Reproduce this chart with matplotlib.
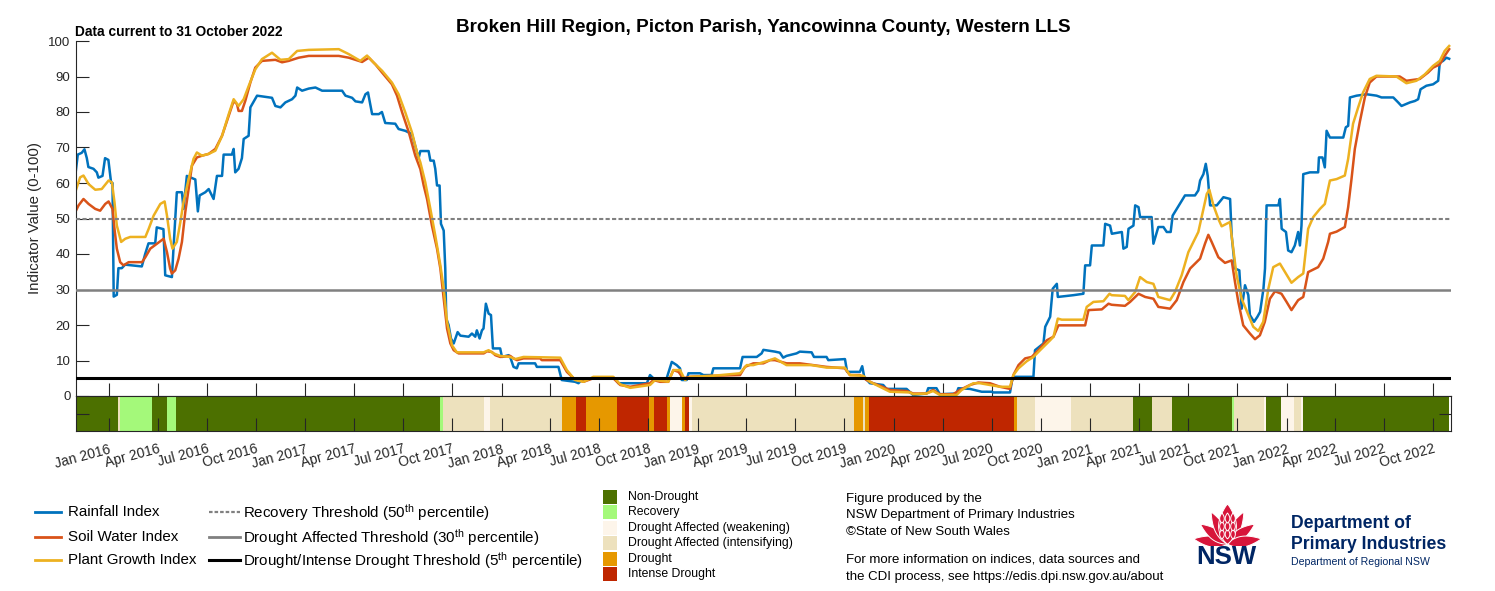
import numpy as np
import matplotlib
matplotlib.use('Agg')
import matplotlib.pyplot as plt
import matplotlib.dates as mdates
from matplotlib.patches import Rectangle, Polygon
from matplotlib.lines import Line2D
from datetime import datetime

plt.rcParams['font.family'] = ['Liberation Sans', 'DejaVu Sans']
plt.rcParams['mathtext.fontset'] = 'custom'
plt.rcParams['mathtext.rm'] = 'Liberation Sans'
plt.rcParams['mathtext.it'] = 'Liberation Sans:italic'
plt.rcParams['mathtext.bf'] = 'Liberation Sans:bold'

# ---------------- data (decimal year, index value) ----------------
rain_pts = [
    (2015.829, 62), (2015.842, 68), (2015.862, 68.5), (2015.876, 69.5), (2015.888, 67), (2015.896, 64.5),
    (2015.922, 64), (2015.939, 63), (2015.947, 61.5), (2015.968, 62), (2015.981, 67), (2015.998, 66.5),
    (2016.012, 60), (2016.019, 60), (2016.025, 28), (2016.041, 28.5), (2016.049, 36), (2016.066, 36),
    (2016.083, 37), (2016.168, 36.5), (2016.185, 40), (2016.202, 43), (2016.236, 43), (2016.244, 47.5),
    (2016.278, 47), (2016.287, 34), (2016.321, 33.5), (2016.329, 41.5), (2016.346, 57.4), (2016.372, 57.4),
    (2016.380, 52.7), (2016.397, 62), (2016.440, 61), (2016.453, 52), (2016.462, 56.5), (2016.491, 57.4),
    (2016.508, 58.3), (2016.533, 55.5), (2016.550, 62), (2016.576, 62), (2016.584, 68), (2016.626, 68),
    (2016.635, 69.6), (2016.643, 63), (2016.660, 64), (2016.677, 67), (2016.686, 72.4), (2016.711, 73.3),
    (2016.720, 81.3), (2016.754, 84.6), (2016.830, 84), (2016.847, 81.7), (2016.873, 81.3), (2016.898, 82.7),
    (2016.932, 83.6), (2016.949, 84.6), (2016.958, 86.9), (2016.983, 86), (2017.017, 86.6), (2017.051, 86.9),
    (2017.085, 86), (2017.187, 86), (2017.204, 84.6), (2017.238, 84), (2017.255, 83), (2017.289, 82.7),
    (2017.306, 85), (2017.319, 85.5), (2017.340, 79.4), (2017.374, 79.4), (2017.390, 80), (2017.407, 76.9),
    (2017.458, 76.7), (2017.475, 75.2), (2017.509, 74.7), (2017.543, 73.8), (2017.577, 67),
    (2017.586, 69), (2017.628, 69), (2017.637, 66.3), (2017.654, 66.3), (2017.662, 64), (2017.671, 59.3),
    (2017.684, 59.3), (2017.688, 53.2), (2017.691, 48.5), (2017.705, 46.6), (2017.713, 35.9), (2017.718, 21.8),
    (2017.730, 20), (2017.742, 16.2), (2017.756, 14.8), (2017.776, 18), (2017.790, 17), (2017.832, 16.7),
    (2017.849, 17.6), (2017.866, 16.7), (2017.874, 18.5), (2017.888, 16.2), (2017.900, 18.5), (2017.908, 19),
    (2017.920, 26), (2017.934, 23.2), (2017.946, 22.8), (2017.956, 13.4), (2017.993, 13.4), (2018.002, 11),
    (2018.036, 11.5), (2018.044, 11), (2018.061, 8.2), (2018.078, 7.8), (2018.087, 9.2), (2018.171, 9.2),
    (2018.180, 8.2), (2018.290, 8.2), (2018.307, 4.5), (2018.375, 4), (2018.392, 3.6), (2018.409, 4.5),
    (2018.469, 5), (2018.579, 5), (2018.596, 3.6), (2018.741, 3.6), (2018.757, 5.9), (2018.774, 5),
    (2018.842, 5), (2018.868, 9.6), (2018.893, 8.7), (2018.910, 7.8), (2018.919, 4.5), (2018.944, 4.5),
    (2018.953, 6.4), (2019.012, 6.4), (2019.029, 5.9), (2019.071, 5.9), (2019.080, 7.8), (2019.216, 7.8),
    (2019.229, 11), (2019.301, 11), (2019.326, 12), (2019.335, 13), (2019.394, 12.5), (2019.419, 12.2),
    (2019.436, 10.8), (2019.453, 11.3), (2019.504, 12), (2019.521, 12.5), (2019.581, 12.3), (2019.593, 11),
    (2019.657, 11), (2019.666, 10.1), (2019.751, 10.4), (2019.762, 6.8), (2019.827, 6.8), (2019.839, 8.4),
    (2019.849, 5.4), (2019.878, 3.6), (2019.946, 3.1), (2019.963, 2), (2020.065, 2), (2020.098, 0.3),
    (2020.166, 0.7), (2020.175, 2.2), (2020.217, 2.2), (2020.234, 0.5), (2020.319, 0.7), (2020.328, 2.2),
    (2020.387, 2), (2020.447, 1.2), (2020.498, 1.2), (2020.506, 1), (2020.591, 1), (2020.600, 4),
    (2020.608, 5.4), (2020.710, 5.4), (2020.718, 12.9), (2020.761, 14.8), (2020.770, 19.5), (2020.795, 22.3),
    (2020.808, 30.2), (2020.829, 31.6), (2020.834, 27.9), (2020.913, 28.4), (2020.964, 28.8), (2020.973, 36.8),
    (2020.998, 36.8), (2021.007, 42.4), (2021.066, 42.4), (2021.075, 48.5), (2021.100, 48), (2021.109, 45.7),
    (2021.160, 46.2), (2021.168, 41.5), (2021.185, 42), (2021.194, 47.1), (2021.219, 48), (2021.228, 53.7),
    (2021.245, 53.2), (2021.253, 50.4), (2021.312, 50.4), (2021.321, 42.9), (2021.346, 47.6), (2021.372, 47.6),
    (2021.389, 46.2), (2021.409, 46.2), (2021.419, 50.8), (2021.440, 52.7), (2021.465, 55), (2021.482, 56.5),
    (2021.533, 56.5), (2021.550, 57.9), (2021.559, 60.7), (2021.576, 62.5), (2021.588, 65.4), (2021.598, 62),
    (2021.610, 53.7), (2021.644, 53.7), (2021.678, 56), (2021.712, 55.5), (2021.720, 45.2), (2021.737, 35.9),
    (2021.759, 35.4), (2021.771, 24.6), (2021.788, 31.2), (2021.805, 28.4), (2021.813, 22.8), (2021.834, 20.9),
    (2021.851, 22.3), (2021.865, 23.7), (2021.882, 30.2), (2021.890, 35.9), (2021.898, 53.7), (2021.958, 53.7),
    (2021.966, 55.5), (2021.975, 47.1), (2021.997, 46.2), (2022.008, 41), (2022.025, 40.5), (2022.042, 42.4),
    (2022.059, 46.2), (2022.068, 42.4), (2022.076, 48), (2022.085, 62.5), (2022.119, 63), (2022.161, 63),
    (2022.165, 67.2), (2022.183, 67.2), (2022.195, 64.4), (2022.204, 74.7), (2022.221, 72.8), (2022.289, 72.8),
    (2022.302, 75.7), (2022.314, 76.1), (2022.323, 84.1), (2022.357, 84.6), (2022.408, 85), (2022.459, 84.6),
    (2022.484, 84.1), (2022.544, 84.1), (2022.569, 82.7), (2022.586, 81.7), (2022.629, 82.7), (2022.654, 83.1),
    (2022.671, 83.6), (2022.683, 86.4), (2022.713, 87.4), (2022.747, 87.8), (2022.773, 88.8), (2022.781, 93.9),
    (2022.798, 94.4), (2022.815, 95.3), (2022.829, 95),
]

soil_pts = [
    (2015.829, 51.8), (2015.846, 53.7), (2015.871, 55.5), (2015.897, 54.1), (2015.931, 52.7), (2015.956, 52.2),
    (2015.982, 54.1), (2015.999, 54.8), (2016.019, 52.7), (2016.029, 47.1), (2016.041, 41.5), (2016.058, 37.7),
    (2016.075, 36.8), (2016.101, 37.7), (2016.169, 37.7), (2016.186, 39.1), (2016.211, 41.5), (2016.245, 42.9),
    (2016.279, 44.3), (2016.296, 40.5), (2016.312, 35.9), (2016.321, 34.5), (2016.338, 35.4), (2016.355, 38.7),
    (2016.372, 43.4), (2016.389, 51.8), (2016.406, 58.3), (2016.423, 64.9), (2016.448, 67.2), (2016.474, 67.7),
    (2016.508, 68.2), (2016.542, 69.6), (2016.576, 73.3), (2016.610, 78.9), (2016.635, 83.1), (2016.652, 82.2),
    (2016.660, 80.3), (2016.677, 80.3), (2016.694, 83.1), (2016.720, 88.3), (2016.745, 92.5), (2016.779, 94.4),
    (2016.847, 94.7), (2016.881, 94.0), (2016.915, 94.4), (2016.966, 95.3), (2017.017, 95.8), (2017.170, 95.8),
    (2017.221, 95.3), (2017.289, 94.1), (2017.323, 95.3), (2017.357, 93.4), (2017.391, 91.1), (2017.441, 87.8),
    (2017.467, 84.6), (2017.493, 79.9), (2017.527, 74.3), (2017.560, 67.7),
    (2017.586, 63.9), (2017.603, 59.3), (2017.620, 55.5), (2017.645, 48.0), (2017.671, 41.5), (2017.688, 35.9),
    (2017.705, 27.4), (2017.722, 19.0), (2017.739, 14.8), (2017.756, 12.9), (2017.781, 12.0), (2017.909, 12.0),
    (2017.926, 12.6), (2017.951, 12.4), (2017.968, 11.5), (2017.993, 11.0), (2018.044, 11.3), (2018.061, 10.6),
    (2018.078, 10.1), (2018.112, 10.6), (2018.197, 10.6), (2018.205, 10.1), (2018.299, 10.1), (2018.333, 6.8),
    (2018.367, 5.0), (2018.418, 4.0), (2018.468, 5.0), (2018.570, 5.0), (2018.605, 3.1), (2018.656, 2.6),
    (2018.707, 3.1), (2018.757, 3.6), (2018.774, 4.5), (2018.808, 4.0), (2018.850, 4.0), (2018.876, 7.3),
    (2018.902, 6.8), (2018.927, 5.0), (2018.961, 5.4), (2019.080, 5.7), (2019.216, 5.9), (2019.241, 8.2),
    (2019.284, 9.2), (2019.335, 9.2), (2019.369, 10.1),
    (2019.394, 10.1), (2019.453, 9.2), (2019.521, 9.2), (2019.589, 8.7), (2019.657, 8.2), (2019.750, 7.8),
    (2019.776, 5.9), (2019.827, 5.9), (2019.861, 4.5), (2019.895, 3.6), (2019.929, 2.9), (2019.980, 1.7),
    (2020.065, 1.4), (2020.099, 0.7), (2020.166, 0.7), (2020.200, 1.7), (2020.234, 0.5), (2020.302, 0.5),
    (2020.336, 1.7), (2020.387, 3.1), (2020.430, 3.8), (2020.489, 3.6), (2020.540, 2.6), (2020.591, 2.0),
    (2020.608, 5.9), (2020.634, 8.7), (2020.668, 10.6), (2020.701, 11.0), (2020.735, 12.9), (2020.778, 15.7),
    (2020.812, 16.7), (2020.837, 19.9), (2020.973, 19.9), (2020.990, 24.2), (2021.058, 24.4), (2021.092, 26.0),
    (2021.108, 25.7), (2021.176, 25.4), (2021.202, 26.5), (2021.245, 28.8), (2021.279, 27.9), (2021.321, 27.4),
    (2021.346, 25.1), (2021.406, 24.6), (2021.440, 27.0), (2021.474, 32.1), (2021.508, 35.9), (2021.559, 38.7),
    (2021.584, 42.9), (2021.601, 45.4), (2021.618, 43.4), (2021.652, 39.1), (2021.686, 37.5), (2021.720, 38.2),
    (2021.737, 32.1), (2021.754, 26.5), (2021.779, 19.9), (2021.813, 17.6), (2021.839, 16.0), (2021.864, 17.1),
    (2021.889, 20.9), (2021.915, 27.4), (2021.941, 29.5), (2021.974, 28.8), (2022.000, 26.5), (2022.025, 24.2),
    (2022.059, 27.0), (2022.085, 27.9), (2022.110, 34.9), (2022.161, 36.3), (2022.187, 38.7), (2022.212, 43.4),
    (2022.221, 45.7), (2022.255, 46.3), (2022.297, 47.6), (2022.314, 53.2), (2022.331, 61.1), (2022.348, 69.6),
    (2022.373, 77.1), (2022.399, 84.1), (2022.424, 88.3), (2022.458, 90.0), (2022.577, 90.0), (2022.611, 88.8),
    (2022.679, 89.3), (2022.721, 91.1), (2022.747, 92.5), (2022.781, 93.4), (2022.806, 95.8), (2022.829, 97.7),
]

plant_pts = [
    (2015.829, 57.4), (2015.854, 61.6), (2015.871, 62.1), (2015.897, 59.7), (2015.931, 58.1), (2015.964, 58.3),
    (2015.999, 60.7), (2016.016, 60.2), (2016.029, 54.6), (2016.041, 48.0), (2016.063, 43.4), (2016.084, 44.3),
    (2016.109, 44.8), (2016.186, 44.8), (2016.203, 47.1), (2016.228, 50.8), (2016.262, 54.1), (2016.284, 54.8),
    (2016.296, 50.8), (2016.312, 44.3), (2016.324, 41.5), (2016.346, 43.4), (2016.364, 49.0), (2016.380, 54.6),
    (2016.406, 61.1), (2016.431, 66.8), (2016.448, 68.6), (2016.474, 67.7), (2016.508, 68.2), (2016.542, 69.1),
    (2016.576, 73.3), (2016.610, 79.4), (2016.635, 83.6), (2016.660, 81.7), (2016.686, 83.6), (2016.712, 87.4),
    (2016.745, 92.0), (2016.779, 94.9), (2016.830, 96.7), (2016.873, 94.7), (2016.915, 94.9), (2016.958, 97.2),
    (2017.017, 97.5), (2017.170, 97.7), (2017.221, 96.3), (2017.280, 94.4), (2017.314, 95.9), (2017.348, 93.9),
    (2017.391, 91.6), (2017.441, 88.3), (2017.475, 85.0), (2017.509, 79.9), (2017.543, 74.3), (2017.569, 68.6),
    (2017.586, 65.8), (2017.611, 60.2), (2017.637, 52.7), (2017.662, 45.2), (2017.688, 36.8), (2017.705, 30.2),
    (2017.722, 20.9), (2017.747, 14.3), (2017.772, 12.3), (2017.909, 12.3), (2017.934, 12.9), (2017.959, 12.0),
    (2017.993, 11.3), (2018.044, 11.0), (2018.070, 10.4), (2018.112, 11.0), (2018.299, 10.8), (2018.333, 7.3),
    (2018.375, 4.5), (2018.418, 4.0), (2018.468, 5.4), (2018.570, 5.4), (2018.605, 3.3), (2018.656, 2.3),
    (2018.757, 3.1), (2018.783, 4.5), (2018.850, 4.0), (2018.876, 7.3), (2018.910, 7.3), (2018.936, 4.5),
    (2018.961, 5.4), (2019.080, 5.7), (2019.216, 6.4), (2019.250, 8.7), (2019.284, 8.7), (2019.352, 9.8),
    (2019.394, 10.6), (2019.453, 8.7), (2019.581, 8.7), (2019.657, 8.0), (2019.750, 8.0), (2019.776, 5.9),
    (2019.844, 5.7), (2019.878, 4.0), (2019.929, 2.6), (2019.980, 1.2), (2020.082, 1.0), (2020.099, 0.5),
    (2020.166, 0.7), (2020.200, 1.4), (2020.234, 0.3), (2020.319, 0.3), (2020.345, 1.7), (2020.404, 3.6),
    (2020.438, 3.6), (2020.489, 3.1), (2020.540, 2.6), (2020.591, 2.6), (2020.608, 5.9), (2020.634, 7.8),
    (2020.676, 9.8), (2020.710, 11.0), (2020.744, 12.9), (2020.795, 15.7), (2020.812, 16.7), (2020.834, 21.8),
    (2020.854, 21.5), (2020.964, 21.5), (2020.981, 25.1), (2021.015, 26.5), (2021.066, 26.7), (2021.097, 28.8),
    (2021.108, 28.4), (2021.176, 28.2), (2021.193, 27.0), (2021.228, 29.3), (2021.253, 33.5), (2021.287, 32.1),
    (2021.321, 31.6), (2021.346, 27.9), (2021.406, 27.0), (2021.431, 29.3), (2021.465, 34.0), (2021.499, 40.5),
    (2021.550, 46.2), (2021.576, 52.7), (2021.593, 56.9), (2021.606, 58.1), (2021.627, 53.7), (2021.652, 49.9),
    (2021.669, 47.8), (2021.711, 49.0), (2021.728, 41.5), (2021.745, 34.0), (2021.771, 27.4), (2021.805, 22.8),
    (2021.830, 19.5), (2021.856, 18.3), (2021.881, 20.9), (2021.907, 30.2), (2021.932, 36.3), (2021.966, 37.3),
    (2021.992, 34.9), (2022.025, 31.9), (2022.059, 33.5), (2022.085, 34.5), (2022.110, 47.1), (2022.136, 50.4),
    (2022.170, 52.7), (2022.195, 54.1), (2022.221, 60.7), (2022.255, 61.1), (2022.297, 62.1), (2022.314, 66.8),
    (2022.339, 76.7), (2022.365, 81.3), (2022.390, 85.5), (2022.424, 89.3), (2022.458, 90.2), (2022.560, 90.0),
    (2022.611, 88.1), (2022.662, 88.8), (2022.705, 90.6), (2022.747, 93.0), (2022.781, 94.4), (2022.806, 97.2),
    (2022.829, 98.6),
]

# drought category band: start dates and category codes
band_starts = ['2015-11-01', '2016-01-18', '2016-01-21', '2016-03-21', '2016-04-18', '2016-05-05',
               '2017-09-09', '2017-09-14', '2017-11-29', '2017-12-10', '2018-04-24', '2018-05-19',
               '2018-06-08', '2018-08-04', '2018-10-02', '2018-10-11', '2018-11-04', '2018-11-11',
               '2018-12-02', '2018-12-09', '2018-12-15', '2018-12-22', '2019-10-18', '2019-11-04',
               '2019-11-08', '2019-11-16', '2020-08-12', '2020-08-18', '2020-09-19', '2020-11-25',
               '2021-03-22', '2021-04-26', '2021-06-02', '2021-09-21', '2021-09-26', '2021-11-20',
               '2021-11-24', '2021-12-22', '2022-01-15', '2022-01-28', '2022-02-01']
band_cats = ['ND', 'DAI', 'R', 'ND', 'R', 'ND',
             'R', 'DAI', 'DAW', 'DAI', 'D', 'ID',
             'D', 'ID', 'D', 'ID', 'D', 'DAW',
             'D', 'ID', 'DAW', 'DAI', 'D', 'DAI',
             'D', 'ID', 'D', 'DAI', 'DAW', 'DAI',
             'ND', 'DAI', 'ND', 'R', 'DAI', 'DAW',
             'ND', 'DAW', 'DAI', 'DAW', 'ND']
band_end = '2022-10-31'

cat_order = ['ND', 'R', 'DAW', 'DAI', 'D', 'ID']
cat_labels = ['Non-Drought', 'Recovery', 'Drought Affected (weakening)',
              'Drought Affected (intensifying)', 'Drought', 'Intense Drought']
cat_colors = {'ND': '#4C7000', 'R': '#A4F97A', 'DAW': '#FDF5EA', 'DAI': '#EDE1BD',
              'D': '#E69800', 'ID': '#BF2600'}

thresholds = [50, 30, 5]
threshold_labels = ['Recovery Threshold (50$^{\\mathrm{th}}$ percentile)',
                    'Drought Affected Threshold (30$^{\\mathrm{th}}$ percentile)',
                    'Drought/Intense Drought Threshold (5$^{\\mathrm{th}}$ percentile)']
series_labels = ['Rainfall Index', 'Soil Water Index', 'Plant Growth Index']

title = 'Broken Hill Region, Picton Parish, Yancowinna County, Western LLS'
subtitle = 'Data current to 31 October 2022'
x_start, x_end = '2015-11-01', '2022-11-03'

# ---------------- helpers ----------------
def yr2dt(y):
    yi = int(y)
    a = datetime(yi, 1, 1)
    b = datetime(yi + 1, 1, 1)
    return a + (b - a) * (y - yi)

def unzip(pts):
    return [yr2dt(p[0]) for p in pts], [p[1] for p in pts]

W, H = 1495, 591
def fx(px): return px / W
def fy(py): return 1 - py / H

TXT = '#262626'
C_RAIN, C_SOIL, C_PLANT = '#0072BD', '#D95319', '#EDB120'

fig = plt.figure(figsize=(W / 100, H / 100), dpi=100)

x0d = datetime.strptime(x_start, '%Y-%m-%d')
x1d = datetime.strptime(x_end, '%Y-%m-%d')

# main axes
ax = fig.add_axes([fx(76), fy(396), fx(1451) - fx(76), fy(41) - fy(396)])
for (pts, c) in [(rain_pts, C_RAIN), (soil_pts, C_SOIL), (plant_pts, C_PLANT)]:
    t, v = unzip(pts)
    ax.plot(t, v, color=c, lw=1.8, zorder=2)
ax.axhline(thresholds[0], color='#808080', lw=1.5, dashes=(2.0, 1.1), zorder=3)
ax.axhline(thresholds[1], color='#808080', lw=1.8, zorder=3)
ax.axhline(thresholds[2], color='black', lw=2.2, zorder=3)
ax.set_xlim(x0d, x1d)
ax.set_ylim(0, 100)
ax.set_yticks(np.arange(0, 101, 10))
ax.spines['top'].set_visible(False)
ax.spines['right'].set_visible(False)
for s in ['left', 'bottom']:
    ax.spines[s].set_color(TXT)
    ax.spines[s].set_linewidth(0.8)
ax.xaxis.set_major_locator(mdates.MonthLocator(bymonth=[1, 4, 7, 10]))
ax.tick_params(axis='x', direction='in', length=9.3, width=0.8, color=TXT, labelbottom=False)
ax.tick_params(axis='y', direction='in', length=9, width=0.8, color=TXT, labelsize=9.5,
               labelcolor=TXT, pad=4)

# band axes
axb = fig.add_axes([fx(76), fy(431), fx(1451) - fx(76), fy(396) - fy(431)])
dates = [datetime.strptime(d, '%Y-%m-%d') for d in band_starts] + [datetime.strptime(band_end, '%Y-%m-%d')]
for i, cat in enumerate(band_cats):
    axb.axvspan(dates[i], dates[i + 1], ymin=0, ymax=1, color=cat_colors[cat], lw=0, zorder=1)
axb.set_xlim(x0d, x1d)
axb.set_ylim(0, 1)
axb.set_yticks([0.5])
axb.set_yticklabels([])
axb.tick_params(axis='y', direction='in', length=9, width=0.8, color=TXT, left=True, right=True)
axb.xaxis.set_major_locator(mdates.MonthLocator(bymonth=[1, 4, 7, 10]))
axb.xaxis.set_major_formatter(mdates.DateFormatter('%b %Y'))
axb.tick_params(axis='x', direction='in', length=9.3, width=0.8, color=TXT, labelsize=10,
                labelcolor=TXT, pad=8)
for lab in axb.get_xticklabels():
    lab.set_rotation(15)
    lab.set_ha('right')
    lab.set_va('top')
    lab.set_rotation_mode('anchor')
for s in axb.spines.values():
    s.set_color(TXT)
    s.set_linewidth(0.8)
    s.set_zorder(5)
axb.set_axisbelow(False)

# titles / labels
fig.text(fx(763), fy(27), title, ha='center', va='center', fontsize=13.6, fontweight='bold', color='black')
fig.text(fx(75), fy(32), subtitle, ha='left', va='center', fontsize=9.9, fontweight='bold', color='black')
fig.text(fx(35), fy(218), 'Indicator Value (0-100)', rotation=90, ha='center', va='center',
         fontsize=10.8, color=TXT)

# legend 1: series
rows = [512, 537, 560]
for r, lab, c in zip(rows, series_labels, [C_RAIN, C_SOIL, C_PLANT]):
    fig.add_artist(Line2D([fx(35), fx(61)], [fy(r), fy(r)], color=c, lw=2.0))
    fig.text(fx(68), fy(r), lab, ha='left', va='center', fontsize=10.9, color='black')
styles = [dict(color='#808080', lw=1.6, dashes=(1.6, 0.9)), dict(color='#808080', lw=2.0),
          dict(color='black', lw=2.2)]
for r, lab, st in zip(rows, threshold_labels, styles):
    fig.add_artist(Line2D([fx(209), fx(240)], [fy(r), fy(r)], **st))
    fig.text(fx(243), fy(r + 1), lab, ha='left', va='center', fontsize=10.9, color='black')

# legend 2: categories
crow = [496.7, 512.3, 527.7, 543.3, 559, 574.3]
for r, cat, lab in zip(crow, cat_order, cat_labels):
    fig.add_artist(Rectangle((fx(603), fy(r + 7)), fx(617) - fx(603), (14) / H,
                             transform=fig.transFigure, facecolor=cat_colors[cat], edgecolor='none'))
    fig.text(fx(628), fy(r), lab, ha='left', va='center', fontsize=8.8, color='black')

# info text
info = [(499, 'Figure produced by the'), (515, 'NSW Department of Primary Industries'),
        (532, '\u00a9State of New South Wales'),
        (560, 'For more information on indices, data sources and'),
        (577, 'the CDI process, see https://edis.dpi.nsw.gov.au/about')]
for r, s in info:
    fig.text(fx(846), fy(r), s, ha='left', va='center', fontsize=9.55, color='black')

# NSW logo
RED, NAVY = '#D7153A', '#002664'
axl = fig.add_axes([fx(1193), fy(546), fx(1262) - fx(1193), fy(503) - fy(546)])
axl.set_xlim(-1, 1)
axl.set_ylim(0, 1.2)
axl.axis('off')

def leaf(a, x0, y0, ang, length, width):
    t = np.linspace(0, 1, 30)
    hw = width / 2 * np.sin(np.pi * t) ** 0.8 * (1 - 0.35 * t)
    ca, sa = np.cos(np.radians(ang)), np.sin(np.radians(ang))
    xl = x0 + t * length * ca - hw * sa
    yl = y0 + t * length * sa + hw * ca
    xr = x0 + t * length * ca + hw * sa
    yr = y0 + t * length * sa - hw * ca
    pts = np.column_stack([np.r_[xl, xr[::-1]], np.r_[yl, yr[::-1]]])
    a.add_patch(Polygon(pts, closed=True, facecolor=RED, edgecolor='white', lw=0.7))

for ang, ln in [(172, 0.98), (145, 0.95), (118, 1.0), (62, 1.0), (35, 0.95), (8, 0.98)]:
    leaf(axl, 0, 0.06, ang, ln, 0.36)
leaf(axl, 0, 0.05, 90, 1.12, 0.62)
for yy in [0.2, 0.42, 0.64]:
    for dx in [-0.16, 0.0, 0.16]:
        leaf(axl, dx, yy, 90, 0.28, 0.16)

fig.text(fx(1226), fy(564), 'NSW', ha='center', va='baseline', fontsize=18.5, fontweight='bold', color=NAVY)
fig.text(fx(1291), fy(528), 'Department of', ha='left', va='baseline', fontsize=12.7, fontweight='bold', color=NAVY)
fig.text(fx(1291), fy(549), 'Primary Industries', ha='left', va='baseline', fontsize=12.7, fontweight='bold', color=NAVY)
fig.text(fx(1291), fy(565), 'Department of Regional NSW', ha='left', va='baseline', fontsize=7.6, color=NAVY)

fig.savefig('out.png', dpi=100)
